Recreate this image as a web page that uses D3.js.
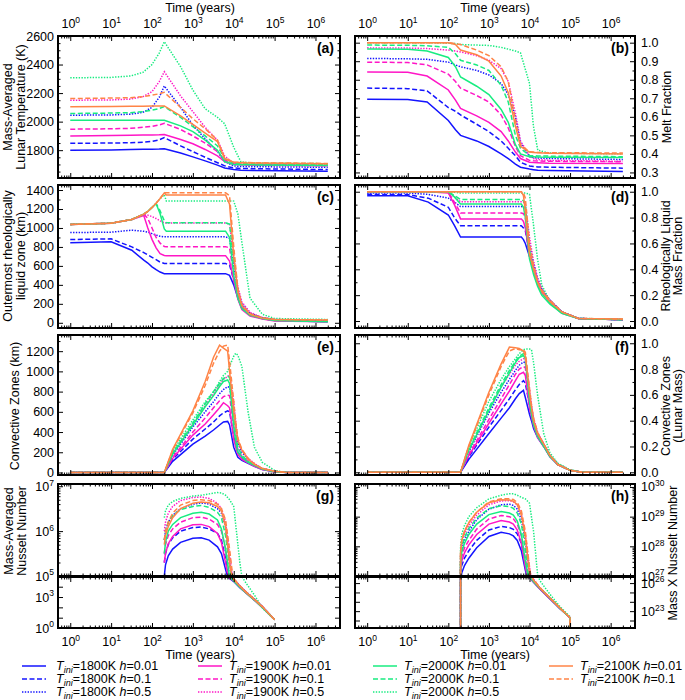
<!DOCTYPE html>
<html><head><meta charset="utf-8">
<script src="https://cdn.jsdelivr.net/npm/d3@7"></script>
<style>body{margin:0;background:#fff} text{font-family:"Liberation Sans",Arial,sans-serif}</style>
</head><body><svg id="c" width="685" height="700"></svg>
<script>
// ---------- DATA ----------
// series order: 1800K h=.01, .1, .5 | 1900K .01, .1, .5 | 2000K .01, .1, .5 | 2100K .01, .1
const seriesTini = [1800,1800,1800,1900,1900,1900,2000,2000,2000,2100,2100];
const seriesH = ["0.01","0.1","0.5","0.01","0.1","0.5","0.01","0.1","0.5","0.01","0.1"];
const timeTickExps = [0,1,2,3,4,5,6];

// (a) mass-averaged lunar temperature (K)
const timeA = [1,10,30,60,100,150,200,500,1000,2000,4000,6000,10000,15000,30000,2e6];
const tempK = [
 [1800,1802,1804,1806,1807,1808,1810,1780,1753,1725,1695,1675,1664,1660,1657,1652],
 [1848,1850,1852,1856,1862,1872,1888,1830,1790,1750,1712,1690,1676,1672,1670,1664],
 [2045,2047,2052,2065,2100,2170,2250,2100,1975,1880,1790,1720,1690,1686,1684,1680],
 [1900,1902,1904,1906,1907,1908,1910,1875,1845,1805,1760,1720,1700,1697,1695,1690],
 [1947,1950,1953,1960,1967,1977,1988,1945,1900,1850,1790,1730,1705,1700,1698,1692],
 [2150,2152,2158,2175,2210,2280,2350,2180,2070,1960,1870,1760,1705,1702,1700,1695],
 [2010,2010,2010,2010,2010,2010,2010,1970,1930,1870,1800,1720,1700,1698,1697,1693],
 [2057,2060,2063,2070,2080,2092,2105,2030,1965,1900,1830,1740,1710,1706,1704,1700],
 [2307,2310,2320,2345,2400,2480,2560,2385,2221,2090,2030,1985,1820,1718,1710,1705],
 [2105,2106,2107,2108,2109,2110,2110,2040,1980,1920,1860,1740,1715,1712,1710,1705],
 [2162,2165,2168,2175,2185,2195,2205,2100,2020,1950,1870,1745,1718,1714,1712,1707]
];

// (b) melt fraction
const timeB = [1,10,30,100,150,200,500,1000,2000,3000,4500,6000,10000,12500,16000,30000,2e6];
const meltFrac = [
 [.695,.693,.68,.58,.53,.50,.47,.44,.40,.375,.345,.328,.318,.315,.312,.31,.305],
 [.755,.752,.74,.65,.63,.61,.56,.52,.47,.43,.39,.355,.335,.332,.33,.328,.323],
 [.915,.913,.91,.895,.88,.87,.85,.826,.78,.72,.60,.46,.385,.38,.378,.375,.37],
 [.842,.84,.82,.745,.69,.645,.605,.57,.52,.47,.41,.375,.355,.353,.352,.35,.348],
 [.895,.893,.88,.83,.79,.755,.715,.68,.61,.54,.44,.39,.365,.363,.362,.36,.358],
 [.972,.971,.968,.96,.955,.95,.93,.905,.86,.79,.62,.47,.39,.375,.37,.365,.36],
 [.966,.965,.955,.92,.87,.815,.765,.72,.64,.57,.45,.40,.385,.384,.383,.382,.38],
 [.987,.986,.983,.975,.94,.905,.88,.85,.77,.68,.50,.43,.392,.39,.389,.388,.385],
 [1.0,1.0,1.0,.997,.995,.99,.987,.985,.975,.965,.955,.945,.78,.55,.42,.405,.40],
 [1.0,1.0,1.0,1.0,.99,.96,.935,.90,.82,.73,.55,.44,.41,.408,.406,.404,.40],
 [1.0,1.0,1.0,1.0,.995,.99,.96,.93,.87,.79,.58,.45,.412,.41,.408,.406,.405]
];

// (c) outermost rheologically liquid zone (km)
const timeC = [1,10,32,63,79,100,126,158,200,224,6300,7900,10000,12600,15800,25000,50000,100000,2e6];
const liquidZoneKm = [
 [843,855,765,660,630,590,560,535,518,518,518,500,400,260,150,80,45,25,10],
 [878,885,800,740,715,690,665,640,625,624,624,610,450,290,170,90,50,30,15],
 [952,955,977,965,955,940,925,912,906,906,906,890,600,350,200,100,55,35,20],
 [1037,1050,1090,1130,1000,880,790,730,710,708,708,650,450,250,140,70,40,20,10],
 [1037,1050,1090,1145,1100,1000,900,840,805,803,803,790,500,280,160,80,45,25,12],
 [1037,1050,1090,1140,1135,1120,1100,1075,1054,1052,1052,1040,700,380,220,110,55,30,15],
 [1037,1050,1090,1145,1175,1215,1255,1150,990,966,966,900,500,260,150,80,45,25,10],
 [1037,1050,1090,1145,1175,1215,1258,1180,1075,1054,1054,1040,650,330,180,90,50,30,15],
 [1037,1050,1090,1145,1175,1215,1260,1310,1350,1284,1284,1284,1283,1150,850,260,90,45,35],
 [1037,1050,1090,1145,1175,1215,1260,1310,1370,1347,1347,1250,700,330,180,90,50,35,30],
 [1037,1050,1090,1145,1175,1215,1260,1310,1370,1370,1370,1340,800,360,190,95,50,35,30]
];

// (d) rheologically liquid mass fraction
const timeD = [1,10,32,100,141,200,6300,7100,7900,10000,12600,15800,20000,32000,63000,160000,2e6];
const liquidMassFrac = [
 [.969,.968,.92,.82,.74,.65,.65,.63,.60,.50,.40,.30,.23,.15,.07,.02,.01],
 [.98,.978,.95,.88,.80,.737,.737,.72,.70,.52,.42,.31,.24,.16,.07,.02,.01],
 [.99,.99,.98,.95,.92,.885,.885,.88,.87,.60,.45,.33,.25,.16,.07,.02,.01],
 [1.0,1.0,1.0,.99,.90,.79,.79,.77,.72,.50,.40,.29,.22,.14,.06,.02,.01],
 [1.0,1.0,1.0,.995,.92,.835,.835,.83,.80,.55,.42,.31,.24,.15,.07,.02,.01],
 [1.0,1.0,1.0,1.0,.96,.922,.922,.92,.90,.65,.46,.33,.25,.16,.07,.02,.01],
 [1.0,1.0,1.0,1.0,.96,.905,.905,.88,.80,.48,.36,.27,.20,.13,.06,.02,.01],
 [1.0,1.0,1.0,1.0,.97,.94,.94,.93,.90,.55,.40,.29,.22,.14,.06,.02,.01],
 [1.0,1.0,1.0,1.0,.995,.99,.99,.99,.99,.98,.74,.48,.28,.15,.07,.02,.015],
 [1.0,1.0,1.0,1.0,1.0,1.0,1.0,.97,.85,.52,.40,.30,.23,.15,.07,.02,.015],
 [1.0,1.0,1.0,1.0,1.0,1.0,1.0,.99,.95,.60,.43,.31,.24,.16,.07,.02,.015]
];

// (e) convective zones (km) and (f) convective zones (lunar mass)
const timeEF = [1,200,320,1000,2000,3200,4500,5600,7100,7900,10000,11200,12600,15800,22400,32000,50000,100000,200000,2e6];
const convKm = [
 [0,0,110,280,360,420,470,500,505,470,250,200,150,120,90,60,30,8,0,0],
 [0,0,130,330,430,500,560,590,610,600,350,280,200,150,100,70,35,10,0,0],
 [0,0,170,450,600,700,780,820,850,840,600,450,300,200,130,80,40,12,0,0],
 [0,0,140,370,480,570,640,690,660,640,330,250,180,130,95,60,30,8,0,0],
 [0,0,150,400,540,640,710,750,765,760,450,330,230,160,110,70,35,10,0,0],
 [0,0,190,480,660,780,870,920,950,960,700,500,320,220,140,90,40,12,0,0],
 [0,0,180,470,650,760,850,900,915,880,450,300,200,150,100,70,35,10,0,0],
 [0,0,190,490,680,800,880,930,950,940,550,380,250,170,110,75,35,10,0,0],
 [0,0,210,520,700,800,900,960,1000,1050,1150,1180,1160,1050,600,250,100,20,0,0],
 [0,0,230,610,900,1140,1260,1230,1200,1000,600,450,320,220,130,80,40,12,0,0],
 [0,0,220,590,860,1080,1200,1250,1260,1100,700,500,340,230,140,85,40,12,0,0]
];
const convMass = [
 [0,0,.10,.30,.42,.50,.57,.61,.635,.58,.45,.40,.34,.27,.20,.12,.06,.015,0,0],
 [0,0,.12,.35,.48,.57,.64,.68,.71,.69,.52,.44,.37,.28,.21,.13,.06,.015,0,0],
 [0,0,.16,.46,.62,.72,.79,.83,.855,.85,.60,.50,.40,.30,.22,.13,.06,.015,0,0],
 [0,0,.13,.38,.53,.63,.71,.76,.775,.75,.50,.43,.36,.27,.20,.12,.06,.015,0,0],
 [0,0,.14,.41,.57,.68,.76,.80,.82,.81,.55,.46,.38,.29,.21,.13,.06,.015,0,0],
 [0,0,.17,.48,.66,.76,.83,.86,.88,.88,.65,.52,.42,.31,.22,.13,.06,.015,0,0],
 [0,0,.17,.48,.66,.77,.85,.89,.905,.88,.55,.45,.37,.28,.20,.12,.06,.015,0,0],
 [0,0,.18,.50,.68,.79,.86,.90,.92,.91,.60,.48,.39,.29,.21,.13,.06,.015,0,0],
 [0,0,.20,.55,.72,.82,.88,.92,.95,.955,.955,.95,.85,.60,.30,.15,.07,.02,0,0],
 [0,0,.21,.62,.84,.97,.965,.96,.94,.90,.62,.50,.40,.30,.22,.13,.06,.015,0,0],
 [0,0,.20,.60,.82,.94,.96,.95,.95,.93,.65,.52,.42,.31,.22,.13,.06,.015,0,0]
];

// (g) log10 of mass-averaged Nusselt number
const timeG = [200,214,250,320,500,1000,1600,2500,4000,5000,6300,7900,10000,14100,20000,32000,50000,100000];
const logNu = [
 [5.0,5.25,5.45,5.6,5.75,5.84,5.85,5.8,5.65,5.5,5.15,4.8,4.5,3.9,3.4,2.7,2.0,0.8],
 [5.3,5.5,5.7,5.85,6.0,6.08,6.09,6.05,5.95,5.8,5.4,4.9,4.6,4.0,3.45,2.75,2.05,0.8],
 [5.8,6.0,6.2,6.35,6.5,6.6,6.63,6.6,6.5,6.4,6.1,5.3,4.7,4.1,3.5,2.8,2.1,0.8],
 [5.3,5.5,5.72,5.88,6.05,6.14,6.15,6.1,5.95,5.75,5.3,4.85,4.55,3.95,3.4,2.7,2.0,0.8],
 [5.5,5.7,5.9,6.05,6.2,6.3,6.31,6.27,6.15,6.0,5.6,5.0,4.6,4.0,3.45,2.75,2.05,0.8],
 [6.0,6.2,6.4,6.55,6.68,6.75,6.76,6.73,6.62,6.5,6.2,5.5,4.75,4.1,3.5,2.8,2.1,0.8],
 [5.5,5.75,6.0,6.15,6.3,6.4,6.42,6.38,6.25,6.05,5.6,4.95,4.55,3.95,3.4,2.7,2.0,0.8],
 [5.8,6.0,6.2,6.35,6.48,6.55,6.57,6.53,6.42,6.3,5.9,5.2,4.65,4.0,3.45,2.75,2.05,0.8],
 [6.3,6.45,6.58,6.66,6.73,6.78,6.8,6.83,6.86,6.85,6.8,6.7,6.55,5.3,4.35,3.2,1.95,0.8],
 [5.7,5.9,6.1,6.3,6.5,6.62,6.65,6.63,6.55,6.45,6.1,5.3,4.7,4.05,3.45,2.75,2.05,0.8],
 [5.8,6.0,6.2,6.4,6.58,6.68,6.7,6.68,6.6,6.5,6.25,5.6,4.8,4.1,3.5,2.8,2.1,0.8]
];

// (h) log10 of mass x Nusselt number (20 = off the bottom of the axis)
const timeH = [200,200,214,250,320,500,1000,2000,3200,4000,5000,6300,7900,10000,12600,17800,32000,56000,100000,100000];
const logMassNu = [
 [20,26.8,27.1,27.35,27.6,27.95,28.33,28.47,28.42,28.35,28.2,27.85,27.2,26.6,26.1,25.4,24.3,23.3,22.3,20],
 [20,27.0,27.35,27.6,27.85,28.2,28.55,28.67,28.63,28.57,28.42,28.1,27.4,26.7,26.15,25.45,24.35,23.3,22.3,20],
 [20,27.5,27.9,28.2,28.5,28.9,29.25,29.4,29.42,29.38,29.25,28.9,28.2,27.1,26.3,25.5,24.4,23.35,22.3,20],
 [20,27.2,27.5,27.78,28.05,28.4,28.75,28.87,28.82,28.75,28.55,28.1,27.3,26.65,26.1,25.4,24.3,23.3,22.3,20],
 [20,27.3,27.65,27.95,28.2,28.58,28.92,29.04,29.0,28.93,28.75,28.35,27.6,26.8,26.2,25.45,24.35,23.3,22.3,20],
 [20,27.7,28.1,28.4,28.7,29.05,29.4,29.53,29.54,29.5,29.4,29.1,28.4,27.3,26.4,25.55,24.4,23.35,22.3,20],
 [20,27.4,27.8,28.1,28.4,28.75,29.07,29.17,29.12,29.05,28.85,28.4,27.5,26.7,26.15,25.45,24.35,23.3,22.3,20],
 [20,27.6,28.0,28.3,28.6,28.95,29.27,29.37,29.34,29.28,29.12,28.75,27.9,26.9,26.25,25.5,24.4,23.35,22.3,20],
 [20,28.0,28.4,28.7,29.0,29.3,29.6,29.72,29.77,29.77,29.72,29.65,29.6,29.45,28.5,26.3,24.8,23.5,22.4,20],
 [20,27.8,28.2,28.5,28.8,29.15,29.47,29.57,29.56,29.52,29.4,29.05,28.3,27.1,26.3,25.5,24.4,23.35,22.3,20],
 [20,27.8,28.2,28.5,28.8,29.15,29.5,29.6,29.6,29.58,29.48,29.2,28.5,27.3,26.4,25.55,24.4,23.35,22.3,20]
];

// ---------- STYLE ----------
const colorByTini = {1800:"#1414ff",1900:"#ff16c6",2000:"#18ec80",2100:"#ff8447"};
const dashByH = {"0.01":null,"0.1":"5,2.5","0.5":"1.4,1.4"};
const FONT = '"Liberation Sans", Arial, sans-serif';

const svg = d3.select("#c");
const cols = [{x0:58,x1:340},{x0:355,x1:635}];
const xDomain = [Math.pow(10,-0.3), Math.pow(10,6.6)];
let clipN = 0;

function isDecade(v){ const l=Math.log10(v); return Math.abs(l-Math.round(l))<1e-6; }

function supText(sel){
  sel.each(function(d){
    const t=d3.select(this); const e=Math.round(Math.log10(d));
    t.text("10"); t.append("tspan").attr("dy","-0.6em").attr("font-size","8.5px").text(e);
  });
}

function panel(o){
  const c = cols[o.col];
  const x = d3.scaleLog().domain(xDomain).range([c.x0,c.x1]);
  const y = o.y;
  const g = svg.append("g");
  const id = "clip"+(clipN++);
  svg.append("clipPath").attr("id",id).append("rect")
    .attr("x",c.x0).attr("y",o.y0).attr("width",c.x1-c.x0).attr("height",o.y1-o.y0);
  const lg = g.append("g").attr("clip-path",`url(#${id})`);
  o.data.forEach((vals,i)=>{
    const line = d3.line().x((d,j)=>x(o.t[j])).y(d=>y(o.tf?o.tf(d):d));
    lg.append("path").attr("d",line(vals)).attr("fill","none")
      .attr("stroke",colorByTini[seriesTini[i]]).attr("stroke-width",1.5)
      .attr("stroke-dasharray",dashByH[seriesH[i]]);
  });
  const majors = timeTickExps.map(e=>Math.pow(10,e));
  const minors = x.ticks().filter(v=>!isDecade(v));
  const style = s=>s.attr("font-size",12.5).attr("font-family",FONT).call(a=>a.select(".domain").remove());
  const top = g.append("g").attr("transform",`translate(0,${o.y0})`);
  top.append("g").call(d3.axisTop(x).tickValues(majors).tickSize(-5).tickPadding(8).tickFormat(o.topLabels?()=>"10":()=>"")).call(style)
    .call(a=>{ if(o.topLabels) a.selectAll("text").call(supText); });
  top.append("g").call(d3.axisTop(x).tickValues(minors).tickSize(-2.5).tickFormat("")).call(style);
  const bot = g.append("g").attr("transform",`translate(0,${o.y1})`);
  bot.append("g").call(d3.axisBottom(x).tickValues(majors).tickSize(-5).tickPadding(9).tickFormat(o.botLabels?()=>"10":()=>"")).call(style)
    .call(a=>{ if(o.botLabels) a.selectAll("text").call(supText); });
  bot.append("g").call(d3.axisBottom(x).tickValues(minors).tickSize(-2.5).tickFormat("")).call(style);
  const fmtL = o.col===0 ? o.fmt : ()=>"";
  const fmtR = o.col===1 ? o.fmt : ()=>"";
  const lft = g.append("g").attr("transform",`translate(${c.x0},0)`);
  lft.append("g").call(d3.axisLeft(y).tickValues(o.majors).tickSize(-5).tickPadding(4).tickFormat(fmtL)).call(style)
    .call(a=>{ if(o.sup && o.col===0) a.selectAll("text").filter(d=>o.labelSet.includes(Math.round(Math.log10(d)))).call(supText); });
  if(o.minors) lft.append("g").call(d3.axisLeft(y).tickValues(o.minors).tickSize(-2.5).tickFormat("")).call(style);
  const rgt = g.append("g").attr("transform",`translate(${c.x1},0)`);
  rgt.append("g").call(d3.axisRight(y).tickValues(o.majors).tickSize(-5).tickPadding(6).tickFormat(fmtR)).call(style)
    .call(a=>{ if(o.sup && o.col===1) a.selectAll("text").filter(d=>o.labelSet.includes(Math.round(Math.log10(d)))).call(supText); });
  if(o.minors) rgt.append("g").call(d3.axisRight(y).tickValues(o.minors).tickSize(-2.5).tickFormat("")).call(style);
  if(o.labelShift) g.selectAll("text").filter(d=>o.labelShift[Math.round(Math.log10(d))]!==undefined)
    .attr("y",d=>o.labelShift[Math.round(Math.log10(d))]);
  g.append("rect").attr("x",c.x0).attr("y",o.y0).attr("width",c.x1-c.x0).attr("height",o.y1-o.y0)
    .attr("fill","none").attr("stroke","#000").attr("stroke-width",2);
  if(o.label) g.append("text").attr("x",c.x1-6).attr("y",o.y0+17).attr("text-anchor","end")
    .attr("font-family",FONT).attr("font-weight","bold").attr("font-size",14).text(o.label);
}

const rng=(a,b,s)=>d3.range(a,b+s/2,s);
const notIn=(arr,m)=>arr.filter(v=>!m.some(u=>Math.abs(u-v)<1e-9));

let mj=rng(1800,2600,200);
panel({col:0,y0:36,y1:178,y:d3.scaleLinear().domain([1605,2600]).range([178,36]),t:timeA,data:tempK,
  majors:mj,minors:notIn(rng(1650,2550,50),mj),fmt:d3.format("d"),label:"(a)",topLabels:true});
mj=rng(0.3,1.0,0.1);
panel({col:1,y0:36,y1:178,y:d3.scaleLinear().domain([0.27,1.036]).range([178,36]),t:timeB,data:meltFrac,
  majors:mj,minors:rng(0.35,0.95,0.1),fmt:d3.format(".1f"),label:"(b)",topLabels:true});
panel({col:0,y0:185,y1:328,y:d3.scaleLinear().domain([-55,1453]).range([328,185]),t:timeC,data:liquidZoneKm,
  majors:rng(0,1400,200),minors:rng(100,1300,200),fmt:d3.format("d"),label:"(c)"});
panel({col:1,y0:185,y1:328,y:d3.scaleLinear().domain([-0.054,1.052]).range([328,185]),t:timeD,data:liquidMassFrac,
  majors:rng(0,1,0.2),minors:rng(0.1,0.9,0.2),fmt:d3.format(".1f"),label:"(d)"});
panel({col:0,y0:335,y1:475,y:d3.scaleLinear().domain([-25,1360]).range([475,335]),t:timeEF,data:convKm,
  majors:rng(0,1200,200),minors:rng(100,1300,200),fmt:d3.format("d"),label:"(e)"});
panel({col:1,y0:335,y1:475,y:d3.scaleLinear().domain([-0.021,1.064]).range([475,335]),t:timeEF,data:convMass,
  majors:rng(0,1,0.2),minors:rng(0.1,0.9,0.2),fmt:d3.format(".1f"),label:"(f)"});
const pow10=v=>Math.pow(10,v);
let yG1=d3.scaleLog().domain([1e5,pow10(7.05)]).range([576,484]);
panel({col:0,y0:484,y1:576,y:yG1,t:timeG,data:logNu,tf:pow10,sup:true,labelSet:[5,6,7],
  majors:[1e5,1e6,1e7],minors:yG1.ticks().filter(v=>!isDecade(v)),fmt:()=>"10",label:"(g)"});
let yG2=d3.scaleLog().domain([1,pow10(4.94)]).range([628,577]);
panel({col:0,y0:577,y1:628,y:yG2,t:timeG,data:logNu,tf:pow10,sup:true,labelSet:[0,3],
  majors:[1,10,100,1e3,1e4],fmt:d=>([0,3].includes(Math.round(Math.log10(d)))?"10":""),botLabels:true});
let yH1=d3.scaleLog().domain([1e27,pow10(30.1)]).range([576,484]);
panel({col:1,y0:484,y1:576,y:yH1,t:timeH,data:logMassNu,tf:pow10,sup:true,labelSet:[27,28,29,30],
  majors:[1e27,1e28,1e29,1e30],minors:yH1.ticks().filter(v=>!isDecade(v)),fmt:()=>"10",label:"(h)"});
let yH2=d3.scaleLog().domain([pow10(21.2),pow10(26.65)]).range([628,577]);
panel({col:1,y0:577,y1:628,y:yH2,t:timeH,data:logMassNu,tf:pow10,sup:true,labelSet:[23,26],
  majors:[1e22,1e23,1e24,1e25,1e26],fmt:d=>([23,26].includes(Math.round(Math.log10(d)))?"10":""),botLabels:true});

// ---------- TITLES ----------
function vtext(x,y,str){
  svg.append("text").attr("transform",`translate(${x},${y}) rotate(-90)`).attr("text-anchor","middle")
    .attr("dominant-baseline","central").attr("font-family",FONT).attr("font-size",12.5).text(str);
}
vtext(8,107,"Mass-Averaged"); vtext(21,107,"Lunar Temperature (K)");
vtext(8,256,"Outermost rheologically"); vtext(21,256,"liquid zone (km)");
vtext(15,406,"Convective Zones (km)");
vtext(9,531,"Mass-Averaged"); vtext(22,531,"Nusselt Number");
vtext(667,107,"Melt Fraction");
vtext(666,256,"Rheologically Liquid"); vtext(678,256,"Mass Fraction");
vtext(666,406,"Convective Zones"); vtext(678,406,"(Lunar Mass)");
vtext(673,553,"Mass X Nusselt Number");
[[200,8],[495,8],[200,655],[495,655]].forEach(p=>{
  svg.append("text").attr("x",p[0]).attr("y",p[1]).attr("text-anchor","middle").attr("dominant-baseline","central")
    .attr("font-family",FONT).attr("font-size",12.5).text("Time (years)");
});

// ---------- LEGEND ----------
const legLineX=[22,198,373,549], legTextX=[56,229,404,580], legRowY=[666,679,692];
const tinis=[1800,1900,2000,2100], hs=["0.01","0.1","0.5"];
seriesTini.forEach((T,i)=>{
  const col=tinis.indexOf(T), row=hs.indexOf(seriesH[i]);
  const yy=legRowY[row];
  svg.append("line").attr("x1",legLineX[col]).attr("x2",legLineX[col]+24).attr("y1",yy).attr("y2",yy)
    .attr("stroke",colorByTini[T]).attr("stroke-width",1.5).attr("stroke-dasharray",dashByH[seriesH[i]]);
  const t=svg.append("text").attr("x",legTextX[col]).attr("y",yy+4).attr("font-family",FONT).attr("font-size",12.5);
  t.append("tspan").attr("font-style","italic").text("T");
  t.append("tspan").attr("font-style","italic").attr("font-size",9).attr("dy",2.5).text("ini");
  t.append("tspan").attr("dy",-2.5).text("="+T+"K ");
  t.append("tspan").attr("font-style","italic").text("h");
  t.append("tspan").text("="+seriesH[i]);
});
</script></body></html>
